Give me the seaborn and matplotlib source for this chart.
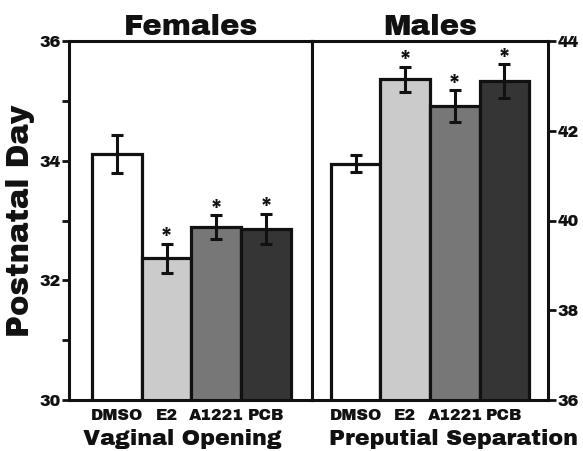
import numpy as np
import pandas as pd
import matplotlib
matplotlib.use("Agg")
import matplotlib.pyplot as plt
import seaborn as sns

groups = ["DMSO", "E2", "A1221", "PCB"]
colors = ["#ffffff", "#cacbca", "#777777", "#353535"]

# females - vaginal opening (postnatal day)
vo_mean = [34.11, 32.37, 32.89, 32.86]
vo_err = [0.32, 0.24, 0.20, 0.25]
vo_sig = [False, True, True, True]

# males - preputial separation (postnatal day)
ps_mean = [41.26, 43.15, 42.55, 43.11]
ps_err = [0.19, 0.28, 0.35, 0.37]
ps_sig = [False, True, True, True]

sns.set_style("ticks")
plt.rcParams['font.family'] = ['Archivo Black', 'Liberation Sans', 'DejaVu Sans']

fig = plt.figure(figsize=(5.83, 4.51), dpi=100)
ax1 = fig.add_axes([69 / 583, 51 / 451, 243 / 583, 359 / 451])
ax2 = fig.add_axes([312 / 583, 51 / 451, 236 / 583, 359 / 451])


def draw_panel(ax, means, errs, sig, ylim, xlim, ystar_off):
    df = pd.DataFrame({"group": groups, "val": means})
    sns.barplot(data=df, x="group", y="val", hue="group", palette=colors,
                legend=False, width=1.0, edgecolor="#111111", linewidth=2.3,
                errorbar=None, ax=ax, saturation=1)
    ax.errorbar(np.arange(len(groups)), means, yerr=errs, fmt="none",
                ecolor="#111111", elinewidth=2.2, capsize=4.5, capthick=2.2, zorder=5)
    for i, (m, e, s) in enumerate(zip(means, errs, sig)):
        if s:
            ax.text(i, m + e + ystar_off, "*", ha="center", va="bottom",
                    fontsize=17, color="#111111")
    ax.set_ylim(*ylim)
    ax.set_xlim(*xlim)
    ax.set_xlabel("")
    ax.set_ylabel("")
    ax.tick_params(axis="x", length=0, labelsize=11.5, pad=6, colors="#111111")
    for sp in ax.spines.values():
        sp.set_visible(True)
        sp.set_linewidth(2.2)
        sp.set_color("#111111")


draw_panel(ax1, vo_mean, vo_err, vo_sig, (30, 36), (-0.96, 3.92), -0.09)
draw_panel(ax2, ps_mean, ps_err, ps_sig, (36, 44), (-0.88, 3.88), -0.12)

ax1.set_yticks([30, 32, 34, 36])
ax1.set_yticks([31, 33, 35], minor=True)
ax1.tick_params(axis="y", which="both", direction="out", length=5, width=2,
                labelsize=11.5, pad=1, colors="#111111")

ax2.yaxis.tick_right()
ax2.set_yticks([36, 38, 40, 42, 44])
ax2.tick_params(axis="y", direction="out", length=6, width=2,
                labelsize=11.5, pad=1, colors="#111111")

ax1.set_title("Females", fontsize=21, pad=3, color="#111111")
ax2.set_title("Males", fontsize=21, pad=3, color="#111111")
ax1.set_xlabel("Vaginal Opening", fontsize=16, color="#111111")
ax2.set_xlabel("Preputial Separation", fontsize=16, color="#111111")
ax1.xaxis.set_label_coords(0.465, -0.082)
ax2.xaxis.set_label_coords(0.60, -0.082)
ax1.set_ylabel("Postnatal Day", fontsize=22, labelpad=3, color="#111111")

fig.savefig("out.png", dpi=100)
